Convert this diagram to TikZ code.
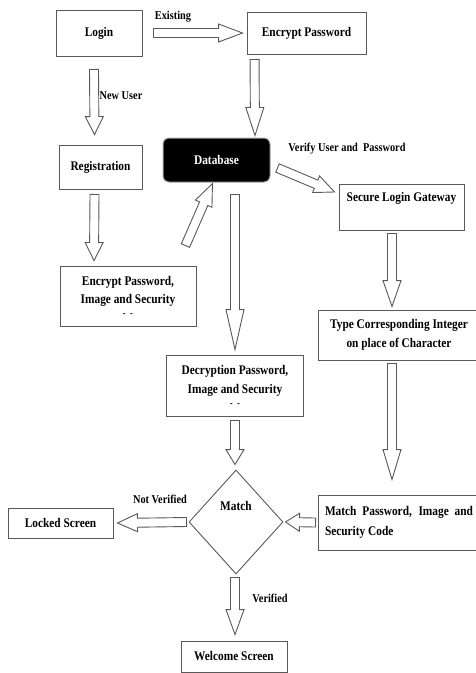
\documentclass[tikz,border=0pt]{standalone}
\usepackage{fontspec}
\setmainfont{Liberation Serif}[FakeStretch=0.86]
\usetikzlibrary{shapes.geometric, calc, positioning}

\newcommand{\boxfont}{\fontsize{13.2}{20}\selectfont\bfseries}
\newcommand{\lblfont}{\fontsize{12}{13}\selectfont\bfseries}

% hollow block arrow: [head length]{tail}{tip}
\newcommand{\hollowarrow}[3][22]{%
  \draw[hollow] let \p1=(#2), \p2=(#3),
      \n1={atan2(\y2-\y1,\x2-\x1)}, \n2={veclen(\x2-\x1,\y2-\y1)} in
    [shift={(\p1)}, rotate=\n1]
    (0pt,-4.5pt) -- (\n2-#1pt,-4.5pt) -- (\n2-#1pt,-9pt) -- (\n2+0pt,0pt)
    -- (\n2-#1pt,9pt) -- (\n2-#1pt,4.5pt) -- (0pt,4.5pt) -- cycle;}

\begin{document}
\begin{tikzpicture}[x=1pt, y=-1pt,
	box/.style={rectangle, draw=black!65, line width=0.9pt, align=center,
	            font=\boxfont, inner sep=2pt},
	dbbox/.style={rectangle, draw=black!35, line width=1pt, fill=black, text=white,
	              rounded corners=6pt, font=\boxfont},
	decision/.style={diamond, draw=black!65, line width=0.9pt, inner sep=0pt,
	                 minimum width=94pt, minimum height=104pt, font=\boxfont},
	lbl/.style={font=\lblfont, inner sep=1pt},
	hollow/.style={draw=black!65, fill=white, line width=0.9pt, line join=miter}
	]
\useasboundingbox (0,0) rectangle (476,673);

\node[box, minimum width=86pt, minimum height=46pt] (login) at (99,33) {Login};
\node[box, minimum width=119pt, minimum height=42pt] (encpw) at (306.5,33) {Encrypt Password};
\node[box, minimum width=83pt, minimum height=44pt] (reg) at (100.5,167) {Registration};
\node[dbbox, minimum width=107pt, minimum height=44pt] (db) at (216.5,160) {Database};
\node[box, minimum width=125pt, minimum height=46pt] (secure) at (401.5,207) {Secure Login Gateway\\\mbox{}};
\node[box, minimum width=136pt, minimum height=60pt] (encimg) at (128,296)
	{Encrypt Password,\\[-2pt] Image and Security\\[-7pt] {\normalsize -\ \ -}};
\node[box, minimum width=137pt, minimum height=61pt] (decrypt) at (235,385.5)
	{Decryption Password,\\[-1pt] Image and Security\\[-7pt] {\normalsize -\ \ -}};
\node[box, minimum width=162pt, minimum height=50pt] (type) at (399,335)
	{Type Corresponding Integer\\[-1pt] on place of Character};
\node[box, minimum width=162pt, minimum height=55pt, text width=148pt, align=justify] (matchpw) at (399,522.5)
	{Match Password, Image and Security Code};
\node[decision] (match) at (236,522) {\raisebox{12pt}[0pt][0pt]{Match}};
\node[box, minimum width=105pt, minimum height=30pt] (locked) at (60.5,523) {Locked Screen};
\node[box, minimum width=106pt, minimum height=31pt] (welcome) at (234,656.5) {Welcome Screen};

\node[lbl] (lexist) at (173,17) {Existing};
\node[lbl] (lnew) at (121,96) {New User};
\node[lbl] (lverify) at (347,149) {Verify User and\ \ Password};
\node[lbl] (lnotver) at (160,499) {Not Verified};
\node[lbl] (lver) at (270,598) {Verified};

% block arrows
\hollowarrow[24]{[shift={(11,0)}]login.east}{[shift={(-4,0)}]encpw.west}
\hollowarrow[18]{[shift={(-5,13)}]login.south}{[shift={(-6,-10)}]reg.north}
\hollowarrow[28]{[shift={(8,5)}]encpw.south west}{[shift={(38.5,-2)}]db.north}
\hollowarrow[20]{[shift={(7,8)}]db.east}{[shift={(-4,-15)}]secure.west}
\hollowarrow[18]{[shift={(-6,5)}]reg.south}{[shift={(-34,-5)}]encimg.north}
\hollowarrow[22]{[shift={(-11,-20)}]encimg.north east}{[shift={(-4,1)}]db.south}
\hollowarrow[40]{[shift={(18.5,12)}]db.south}{[shift={(0,-5)}]decrypt.north}
\hollowarrow[26]{[shift={(-9.5,3)}]secure.south}{[shift={(-7,-3)}]type.north}
\hollowarrow[30]{[shift={(-7,3)}]type.south}{[shift={(-7,-15)}]matchpw.north}
\hollowarrow[15]{[shift={(0,4)}]decrypt.south}{[shift={(-1,-5)}]match.north}
\hollowarrow[14]{[shift={(-2,0)}]matchpw.west}{[shift={(2,0)}]match.east}
\hollowarrow[20]{[shift={(-2,0)}]match.west}{[shift={(4,0)}]locked.east}
\hollowarrow[25]{[shift={(-1,3)}]match.south}{[shift={(1,-6)}]welcome.north}
\end{tikzpicture}
\end{document}
